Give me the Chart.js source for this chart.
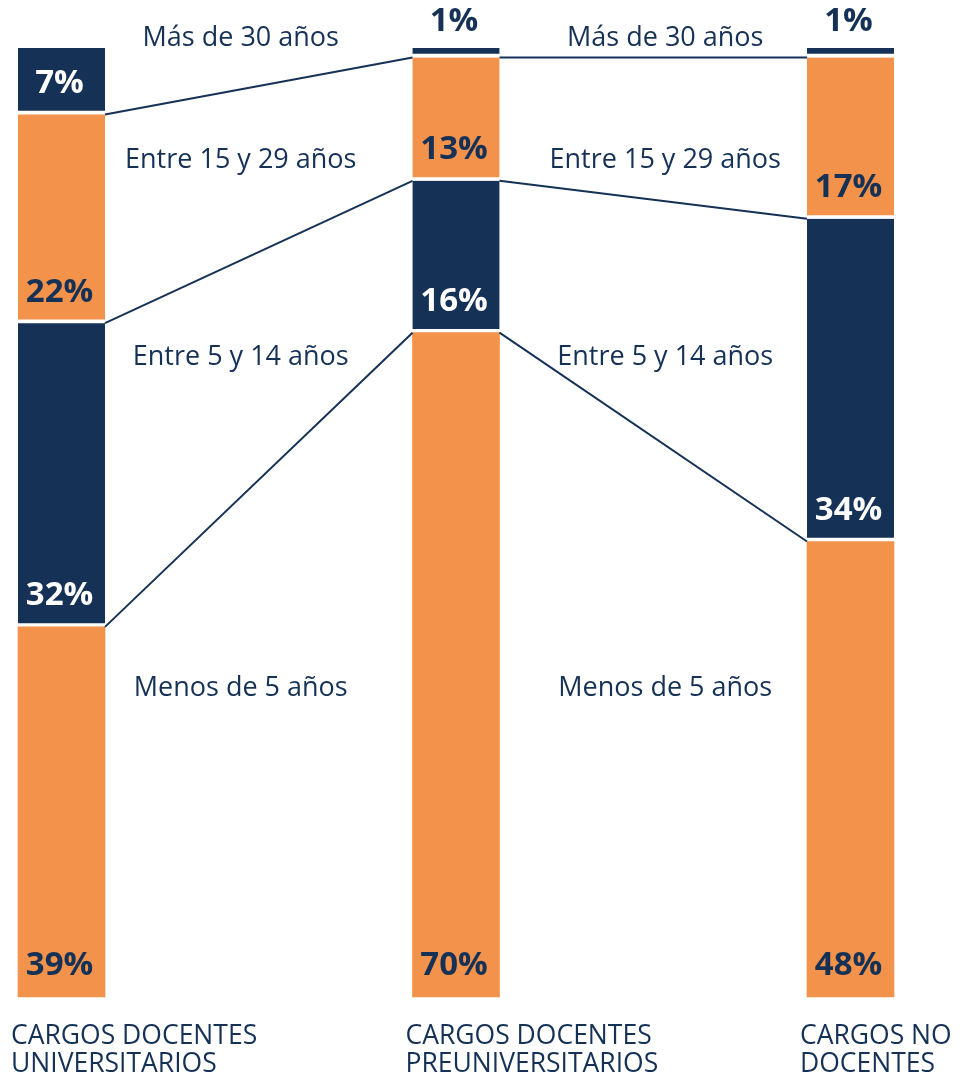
<!DOCTYPE html>
<html lang="es">
<head>
    <meta charset="utf-8">
    <title>Antigüedad en el cargo</title>
    <script src="https://cdn.jsdelivr.net/npm/chart.js"></script>
    <style>
        html, body {
            margin: 0;
            padding: 0;
            background: #ffffff;
        }

        .chart-box {
            position: relative;
            width: 961px;
            height: 1077px;
        }
    </style>
</head>
<body>
<div class="chart-box">
    <canvas id="antiguedadChart"></canvas>
</div>

<script>
    // categorías (eje x) y tramos de antigüedad, de abajo hacia arriba
    const cargos = [
        ['CARGOS DOCENTES', 'UNIVERSITARIOS'],
        ['CARGOS DOCENTES', 'PREUNIVERSITARIOS'],
        ['CARGOS NO', 'DOCENTES']
    ];
    const tramos = ['Menos de 5 años', 'Entre 5 y 14 años', 'Entre 15 y 29 años', 'Más de 30 años'];

    // porcentajes por tramo
    const menos5 = [39, 70, 48];
    const entre5y14 = [32, 16, 34];
    const entre15y29 = [22, 13, 17];
    const mas30 = [7, 1, 1];

    const NAVY = '#153156';
    const ORANGE = '#f2924b';
    const FONT = "'Open Sans', sans-serif";

    const series = [menos5, entre5y14, entre15y29, mas30];
    const colores = [ORANGE, NAVY, ORANGE, NAVY];

    // textos de los tramos entre columnas (y en píxeles)
    const tramoY = [688, 357, 160, 38];
    const gapShift = [-18, 12];

    const etiquetas = {
        id: 'etiquetas',
        afterDatasetsDraw(chart) {
            const ctx = chart.ctx;
            const metas = series.map((_, d) => chart.getDatasetMeta(d));
            ctx.save();

            // líneas que unen los límites de cada tramo
            ctx.strokeStyle = NAVY;
            ctx.lineWidth = 2;
            for (let d = 0; d < 3; d++) {
                const bars = metas[d].data;
                for (let i = 0; i < bars.length - 1; i++) {
                    const a = bars[i], b = bars[i + 1];
                    ctx.beginPath();
                    ctx.moveTo(a.x + a.width / 2, a.y);
                    ctx.lineTo(b.x - b.width / 2, b.y);
                    ctx.stroke();
                }
            }

            // porcentajes
            ctx.font = 'bold 33px ' + FONT;
            ctx.textAlign = 'center';
            ctx.textBaseline = 'middle';
            metas.forEach((meta, d) => {
                meta.data.forEach((el, i) => {
                    const h = el.base - el.y;
                    let y, color;
                    if (h > 40) {
                        y = el.base - 31;
                        color = colores[d] === NAVY ? '#ffffff' : NAVY;
                    } else {
                        y = el.y - 26;
                        color = NAVY;
                    }
                    ctx.fillStyle = color;
                    ctx.fillText(series[d][i] + '%', el.x - 2, y);
                });
            });

            // nombres de los tramos en los espacios entre columnas
            ctx.font = '27px ' + FONT;
            ctx.fillStyle = NAVY;
            const bars = metas[0].data;
            for (let g = 0; g < bars.length - 1; g++) {
                const x = (bars[g].x + bars[g + 1].x) / 2 + gapShift[g];
                tramos.forEach((t, k) => ctx.fillText(t, x, tramoY[k]));
            }

            // etiquetas del eje x
            ctx.textAlign = 'left';
            ctx.textBaseline = 'alphabetic';
            ctx.font = '26.5px ' + FONT;
            const bottom = chart.chartArea.bottom;
            bars.forEach((el, i) => {
                const x = el.x - el.width / 2 - 7;
                cargos[i].forEach((line, k) => ctx.fillText(line, x, bottom + 47 + k * 28));
            });

            ctx.restore();
        }
    };

    new Chart(document.getElementById('antiguedadChart'), {
        type: 'bar',
        data: {
            labels: cargos.map(c => c.join(' ')),
            datasets: series.map((data, d) => ({
                label: tramos[d],
                data: data,
                backgroundColor: colores[d],
                borderColor: '#ffffff',
                borderWidth: d === 0 ? 0 : { top: 0, left: 0, right: 0, bottom: 4 },
                borderSkipped: false,
                barThickness: 87,
                clip: false
            }))
        },
        options: {
            responsive: true,
            maintainAspectRatio: false,
            animation: false,
            layout: {
                padding: { left: 61.5, right: 110.5, top: 48, bottom: 80 }
            },
            plugins: {
                legend: { display: false },
                tooltip: { enabled: false }
            },
            scales: {
                x: { stacked: true, display: false, offset: false },
                y: { stacked: true, display: false, min: 0, max: 100 }
            }
        },
        plugins: [etiquetas]
    });
</script>
</body>
</html>
